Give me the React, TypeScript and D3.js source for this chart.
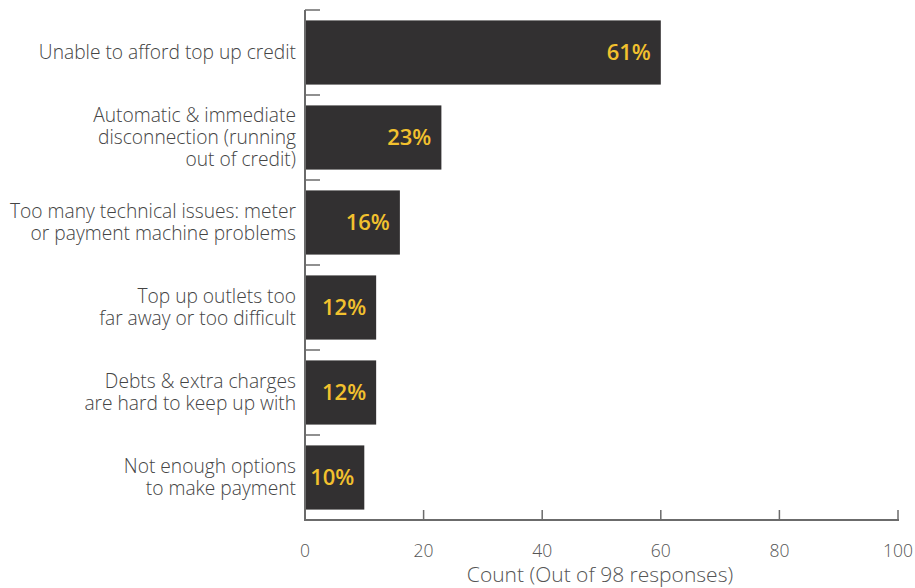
import React from "react";
import * as d3 from "d3";

const categories: string[][] = [
  ["Unable to afford top up credit"],
  ["Automatic & immediate", "disconnection (running", "out of credit)"],
  ["Too many technical issues: meter", "or payment machine problems"],
  ["Top up outlets too", "far away or too difficult"],
  ["Debts & extra charges", "are hard to keep up with"],
  ["Not enough options", "to make payment"],
];
const counts: number[] = [60, 23, 16, 12, 12, 10];
const percentLabels: string[] = ["61%", "23%", "16%", "12%", "12%", "10%"];
const xTicks: number[] = [0, 20, 40, 60, 80, 100];
const xTitle = "Count (Out of 98 responses)";

const W = 915;
const H = 588;
const left = 305;
const right = 898;
const top = 10;
const bottom = 520;
const font = "'Open Sans', 'Noto Sans', sans-serif";

export default function App() {
  const idx = categories.map((_, i) => String(i));
  const y = d3.scaleBand<string>().domain(idx).range([top, bottom]).paddingInner(0).paddingOuter(0);
  const x = d3.scaleLinear().domain([0, 100]).range([left, right]);
  const step = y.step();
  const barH = step * 0.755;
  const axisColor = "#6b6b6b";
  const lineH = 22;

  return (
    <svg width={W} height={H} style={{ position: "absolute", left: 0, top: 0, background: "#fff" }}>
      {counts.map((v, i) => {
        const y0 = (y(String(i)) as number) + (step - barH) / 2;
        return (
          <g key={"b" + i}>
            <rect x={x(0)} y={y0} width={x(v) - x(0)} height={barH} fill="#323031" />
            <text
              x={x(v) - 10}
              y={y0 + barH / 2}
              dy="0.36em"
              textAnchor="end"
              fill="#f2c12e"
              fontFamily={font}
              fontWeight={600}
              fontSize={22}
            >
              {percentLabels[i]}
            </text>
          </g>
        );
      })}
      <line x1={left} x2={left} y1={top} y2={bottom + 1} stroke={axisColor} strokeWidth={2} />
      {idx.map((d) => (
        <line key={"yt" + d} x1={left} x2={left + 15} y1={y(d) as number} y2={y(d) as number} stroke={axisColor} strokeWidth={1.5} />
      ))}
      {categories.map((lines, i) => {
        const cy = (y(String(i)) as number) + step / 2;
        const startY = cy - ((lines.length - 1) * lineH) / 2;
        return (
          <text key={"yl" + i} textAnchor="end" fill="#444" fontFamily={font} fontWeight={300} fontSize={19.2}>
            {lines.map((ln, j) => (
              <tspan key={j} x={left - 9} y={startY + j * lineH} dy="0.35em">
                {ln}
              </tspan>
            ))}
          </text>
        );
      })}
      <line x1={left - 1} x2={right + 1} y1={bottom} y2={bottom} stroke={axisColor} strokeWidth={2} />
      {xTicks.map((t) => (
        <g key={"xt" + t}>
          {t !== 0 && <line x1={x(t)} x2={x(t)} y1={bottom} y2={bottom - 10} stroke={axisColor} strokeWidth={1.5} />}
          <text x={x(t)} y={557} textAnchor="middle" fill="#555" fontFamily={font} fontWeight={300} fontSize={17.5}>
            {t}
          </text>
        </g>
      ))}
      <text x={600} y={582} textAnchor="middle" fill="#555" fontFamily={font} fontWeight={300} fontSize={21}>
        {xTitle}
      </text>
    </svg>
  );
}
